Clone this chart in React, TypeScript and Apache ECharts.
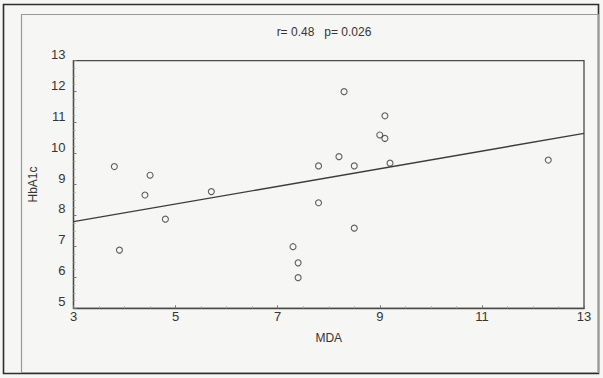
import React, { useEffect, useRef } from "react";
import * as echarts from "echarts";

const mdaValues = [3.8, 3.9, 4.4, 4.5, 4.8, 5.7, 7.3, 7.4, 7.4, 7.8, 7.8, 8.2, 8.3, 8.5, 8.5, 9.0, 9.1, 9.1, 9.2, 12.3];
const hba1cValues = [9.58, 6.88, 8.66, 9.3, 7.88, 8.77, 6.99, 6.47, 5.99, 9.6, 8.41, 9.9, 12.0, 9.6, 7.59, 10.6, 10.49, 11.22, 9.69, 9.79];
const fitX = [3, 13];
const fitY = [7.8, 10.65];
const xTicks = [3, 5, 7, 9, 11, 13];
const yTicks = [5, 6, 7, 8, 9, 10, 11, 12, 13];
const statsText = "r= 0.48   p= 0.026";

export default function App() {
  const ref = useRef<HTMLDivElement>(null);
  useEffect(() => {
    if (!ref.current) return;
    const chart = echarts.init(ref.current, undefined, { renderer: "svg" });
    const font = "'Liberation Sans', Arial, sans-serif";
    const textColor = "#353535";
    chart.setOption({
      animation: false,
      backgroundColor: "#f6f6f4",
      textStyle: { fontFamily: font },
      grid: {
        left: 73.5,
        right: 19,
        top: 60.7,
        bottom: 69.7,
        show: true,
        borderColor: "#4a4a4a",
        borderWidth: 1.3,
        backgroundColor: "transparent",
      },
      xAxis: {
        type: "value",
        min: xTicks[0],
        max: xTicks[xTicks.length - 1],
        interval: 2,
        name: "MDA",
        nameLocation: "middle",
        nameGap: 30,
        nameTextStyle: { fontSize: 12, color: textColor, fontFamily: font, verticalAlign: "middle" },
        axisLine: { show: true, lineStyle: { color: "#4a4a4a", width: 1.3 } },
        axisTick: { show: true, inside: true, length: 3, lineStyle: { color: "#777" } },
        minorTick: { show: true, splitNumber: 4, length: 2, lineStyle: { color: "#aaa" } },
        axisLabel: {
          fontSize: 13,
          color: textColor,
          fontFamily: font,
          margin: 2,
          verticalAlign: "top",
          formatter: (v: number) => (xTicks.includes(v) ? String(v) : ""),
        },
        splitLine: { show: false },
      },
      yAxis: {
        type: "value",
        min: yTicks[0],
        max: yTicks[yTicks.length - 1],
        interval: 1,
        name: "HbA1c",
        nameLocation: "middle",
        nameRotate: 90,
        nameGap: 41,
        nameTextStyle: { fontSize: 12, color: textColor, fontFamily: font, verticalAlign: "middle" },
        axisLine: { show: true, lineStyle: { color: "#4a4a4a", width: 1.3 } },
        axisTick: { show: true, inside: true, length: 3, lineStyle: { color: "#777" } },
        minorTick: { show: true, splitNumber: 4, length: 2, lineStyle: { color: "#aaa" } },
        axisLabel: {
          fontSize: 13,
          color: textColor,
          fontFamily: font,
          margin: 8,
          verticalAlign: "bottom",
        },
        splitLine: { show: false },
      },
      graphic: [
        {
          type: "rect",
          shape: { x: 3.5, y: 4.5, width: 595, height: 369 },
          style: { fill: "none", stroke: "#2e2e2e", lineWidth: 1.6 },
          silent: true,
        },
        {
          type: "rect",
          shape: { x: 21.5, y: 14.5, width: 577, height: 358 },
          style: { fill: "none", stroke: "#9a9a9a", lineWidth: 1.2 },
          silent: true,
        },
        {
          type: "text",
          x: 324,
          y: 32,
          style: {
            text: statsText,
            fontSize: 12,
            fontFamily: font,
            fill: textColor,
            align: "center",
            verticalAlign: "middle",
          },
          silent: true,
        },
      ],
      series: [
        {
          type: "line",
          data: fitX.map((x, i) => [x, fitY[i]]),
          symbol: "none",
          lineStyle: { color: "#3c3c3c", width: 1.4 },
          silent: true,
          z: 2,
        },
        {
          type: "scatter",
          data: mdaValues.map((x, i) => [x, hba1cValues[i]]),
          symbol: "circle",
          symbolSize: 6,
          itemStyle: { color: "transparent", borderColor: "#3a3a3a", borderWidth: 1.1 },
          z: 3,
        },
      ],
    });
    return () => chart.dispose();
  }, []);
  return (
    <div
      ref={ref}
      style={{ position: "absolute", left: 0, top: 0, width: 603, height: 378 }}
    />
  );
}
